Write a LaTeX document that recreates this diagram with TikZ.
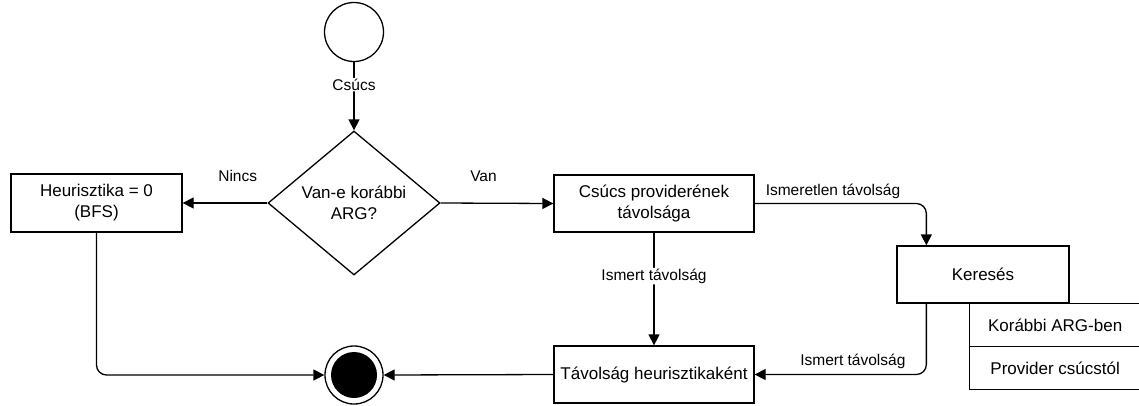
\documentclass[tikz,border=0pt]{standalone}
\usepackage{fontspec}
\setmainfont{Liberation Sans}
\usetikzlibrary{shapes.geometric,arrows.meta,calc}
\begin{document}
\begin{tikzpicture}[x=1pt,y=-1pt,
  every path/.style={line width=1.3pt},
  boxnode/.style={draw,rectangle,inner sep=0pt,align=center,
    font=\fontsize{17}{21}\selectfont},
  decision/.style={draw,diamond,aspect=1.2,inner sep=0pt,align=center,
    minimum width=172pt,minimum height=144pt,
    font=\fontsize{17}{21}\selectfont},
  lbl/.style={font=\fontsize{15.5}{18}\selectfont,inner sep=1pt},
  flow/.style={-{Triangle[length=11pt,width=11pt]},rounded corners=10pt}
]
\useasboundingbox (0,0) rectangle (1139,405);

% start and end states
\node[draw,circle,minimum size=59pt,inner sep=0pt] (start) at (354,32) {};
\node[draw,circle,minimum size=58pt,inner sep=0pt] (stop) at (354,375) {};
\node[fill=black,circle,minimum size=46pt,inner sep=0pt] (stopdot) at (354,375) {};

% decision
\node[decision] (q) at (354,203) {Van-e korábbi\\ARG?};

% process boxes
\node[boxnode,minimum width=171pt,minimum height=58pt] (heur) at (96.5,203) {Heurisztika = 0\\(BFS)};
\node[boxnode,minimum width=200pt,minimum height=57pt] (prov) at (654,203.5) {Csúcs providerének\\távolsága};
\node[boxnode,minimum width=200pt,minimum height=57pt] (dist) at (654,374.5) {Távolság heurisztikaként};
\node[boxnode,minimum width=172pt,minimum height=57pt] (kere) at (983,274.5) {Keresés};
\node[boxnode,minimum width=171pt,minimum height=43pt,anchor=north west] (opt1) at (969,303) {Korábbi ARG-ben};
\node[boxnode,minimum width=171pt,minimum height=43pt,anchor=north west] (opt2) at (969,346) {Provider csúcstól};

% connectors
\coordinate (kin) at ($(kere.north west)+(30,0)$);
\coordinate (kout) at ($(kere.south west)+(30,0)$);

\draw[flow] (start) -- node[lbl,fill=white,pos=0.33] {Csúcs} (q);
\draw[flow] (q.west) -- node[lbl,pos=0.35,yshift=27pt] {Nincs} (heur.east);
\draw[flow] (q.east) -- node[lbl,pos=0.38,yshift=27pt] {Van} (prov.west);
\draw[flow] (prov.east) -| node[lbl,pos=0.228,yshift=12pt] {Ismeretlen távolság} (kin);
\draw[flow] (prov.south) -- node[lbl,fill=white,pos=0.386] {Ismert távolság} (dist.north);
\draw[flow] (kout) |- node[lbl,pos=0.714,yshift=13pt] {Ismert távolság} (dist.east);
\draw[flow] (heur.south) |- (stop.west);
\draw[flow] (dist.west) -- (stop.east);
\end{tikzpicture}
\end{document}
